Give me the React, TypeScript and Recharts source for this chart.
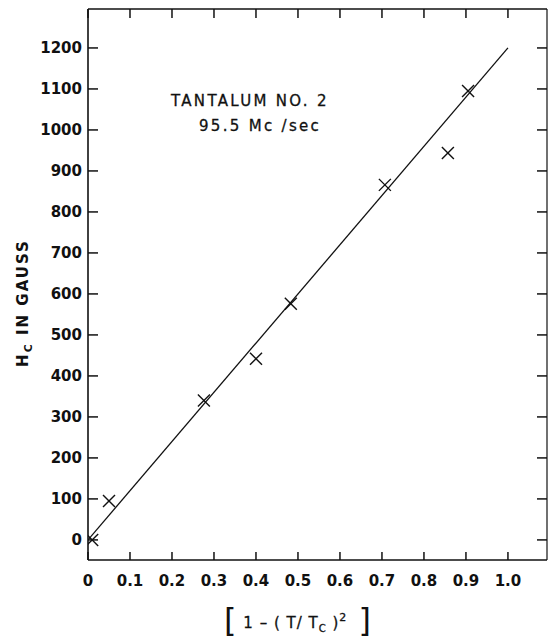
import React from 'react';
import { ScatterChart, Scatter, XAxis, YAxis } from 'recharts';

// measured points: x = 1-(T/Tc)^2, y = Hc in gauss
const xVals = [0.01, 0.05, 0.276, 0.4, 0.483, 0.707, 0.857, 0.905];
const hcVals = [0, 95, 340, 442, 576, 866, 944, 1095];

// straight-line fit through the origin
const fitX = [0, 1.0];
const fitY = [0, 1200];

const xTicks = [0, 0.1, 0.2, 0.3, 0.4, 0.5, 0.6, 0.7, 0.8, 0.9, 1.0];
const yTicks = [0, 100, 200, 300, 400, 500, 600, 700, 800, 900, 1000, 1100, 1200];

const points = xVals.map((x, i) => ({ x, y: hcVals[i] }));
const fitLine = fitX.map((x, i) => ({ x, y: fitY[i] }));

const INK = '#111';
const FONT = "'DejaVu Sans', sans-serif";
const X_DOMAIN: [number, number] = [0, 1.093];
const Y_DOMAIN: [number, number] = [-49, 1295];

const Cross = (props: any) => {
  const { cx, cy } = props;
  const r = 6;
  return (
    <g stroke={INK} strokeWidth={1.4}>
      <line x1={cx - r} y1={cy - r} x2={cx + r} y2={cy + r} />
      <line x1={cx - r} y1={cy + r} x2={cx + r} y2={cy - r} />
    </g>
  );
};

const NoDot = () => <g />;

const fmtX = (v: number) => (v === 0 ? '0' : v.toFixed(1));

// tick marks point into the plot, so each tick draws its own line
const BottomTick = (props: any) => {
  const { x, y, payload } = props;
  return (
    <g>
      <line x1={x} y1={y} x2={x} y2={y - 8} stroke={INK} strokeWidth={1.5} />
      <text x={x} y={y + 26} textAnchor="middle" fontFamily={FONT} fontWeight="bold" fontSize={15} fill={INK}>
        {fmtX(payload.value)}
      </text>
    </g>
  );
};

const LeftTick = (props: any) => {
  const { x, y, payload } = props;
  return (
    <g>
      <line x1={x} y1={y} x2={x + 10} y2={y} stroke={INK} strokeWidth={1.5} />
      <text x={x - 6} y={y + 5.5} textAnchor="end" fontFamily={FONT} fontWeight="bold" fontSize={15} fill={INK}>
        {payload.value}
      </text>
    </g>
  );
};

const TopTick = (props: any) => {
  const { x, y } = props;
  return <line x1={x} y1={y} x2={x} y2={y + 9} stroke={INK} strokeWidth={1.5} />;
};

const RightTick = (props: any) => {
  const { x, y } = props;
  return <line x1={x} y1={y} x2={x - 10} y2={y} stroke={INK} strokeWidth={1.5} />;
};

const App: React.FC = () => {
  return (
    <div style={{ position: 'absolute', left: 0, top: 0, background: '#fff' }}>
      <ScatterChart width={548} height={640} margin={{ top: 8, right: 0, bottom: 0, left: 0 }}>
        <XAxis
          xAxisId="b"
          type="number"
          dataKey="x"
          domain={X_DOMAIN}
          ticks={xTicks}
          height={80}
          tickSize={0}
          tickMargin={0}
          tickLine={false}
          tick={<BottomTick />}
          axisLine={{ stroke: INK, strokeWidth: 1.6 }}
          allowDataOverflow
        />
        <XAxis
          xAxisId="t"
          orientation="top"
          type="number"
          dataKey="x"
          domain={X_DOMAIN}
          ticks={xTicks}
          height={1}
          tickSize={0}
          tickMargin={0}
          tickLine={false}
          tick={<TopTick />}
          axisLine={{ stroke: INK, strokeWidth: 1.6 }}
          allowDataOverflow
        />
        <YAxis
          yAxisId="l"
          type="number"
          dataKey="y"
          domain={Y_DOMAIN}
          ticks={yTicks}
          width={88}
          tickSize={0}
          tickMargin={0}
          tickLine={false}
          tick={<LeftTick />}
          axisLine={{ stroke: INK, strokeWidth: 1.6 }}
          allowDataOverflow
        />
        <YAxis
          yAxisId="r"
          orientation="right"
          type="number"
          dataKey="y"
          domain={Y_DOMAIN}
          ticks={yTicks}
          width={1}
          tickSize={0}
          tickMargin={0}
          tickLine={false}
          tick={<RightTick />}
          axisLine={{ stroke: INK, strokeWidth: 1.2 }}
          allowDataOverflow
        />
        <Scatter
          xAxisId="b"
          yAxisId="l"
          data={fitLine}
          line={{ stroke: INK, strokeWidth: 1.3 }}
          shape={<NoDot />}
          isAnimationActive={false}
        />
        <Scatter xAxisId="b" yAxisId="l" data={points} shape={<Cross />} isAnimationActive={false} />
        {/* hidden series so the top and right frame axes get drawn */}
        <Scatter xAxisId="t" yAxisId="r" data={fitLine} shape={<NoDot />} isAnimationActive={false} />

        <text fontFamily={FONT} fontSize={15} fill={INK} stroke={INK} strokeWidth={0.3} letterSpacing={2.3}>
          <tspan x={171} y={106}>TANTALUM  NO. 2</tspan>
          <tspan x={199} y={131}>95.5 Mc /sec</tspan>
        </text>

        <text
          transform="translate(28, 303) rotate(-90)"
          textAnchor="middle"
          fontFamily={FONT}
          fontWeight="bold"
          fontSize={15}
          fill={INK}
          letterSpacing={2}
        >
          <tspan>H</tspan>
          <tspan fontSize={11} dy={4}>C</tspan>
          <tspan dy={-4}>  IN  GAUSS</tspan>
        </text>

        <text x={298} y={628} textAnchor="middle" fontFamily={FONT} fontSize={15} fill={INK} stroke={INK} strokeWidth={0.3} letterSpacing={1}>
          <tspan fontSize={32} strokeWidth={0} dy={3}>[</tspan>
          <tspan dy={-3}> 1 – ( T/ T</tspan>
          <tspan fontSize={10} dy={4}>C</tspan>
          <tspan dy={-4}> )</tspan>
          <tspan fontSize={11} dy={-7}>2</tspan>
          <tspan fontSize={32} strokeWidth={0} dy={10}> ]</tspan>
        </text>
      </ScatterChart>
    </div>
  );
};

export default App;
